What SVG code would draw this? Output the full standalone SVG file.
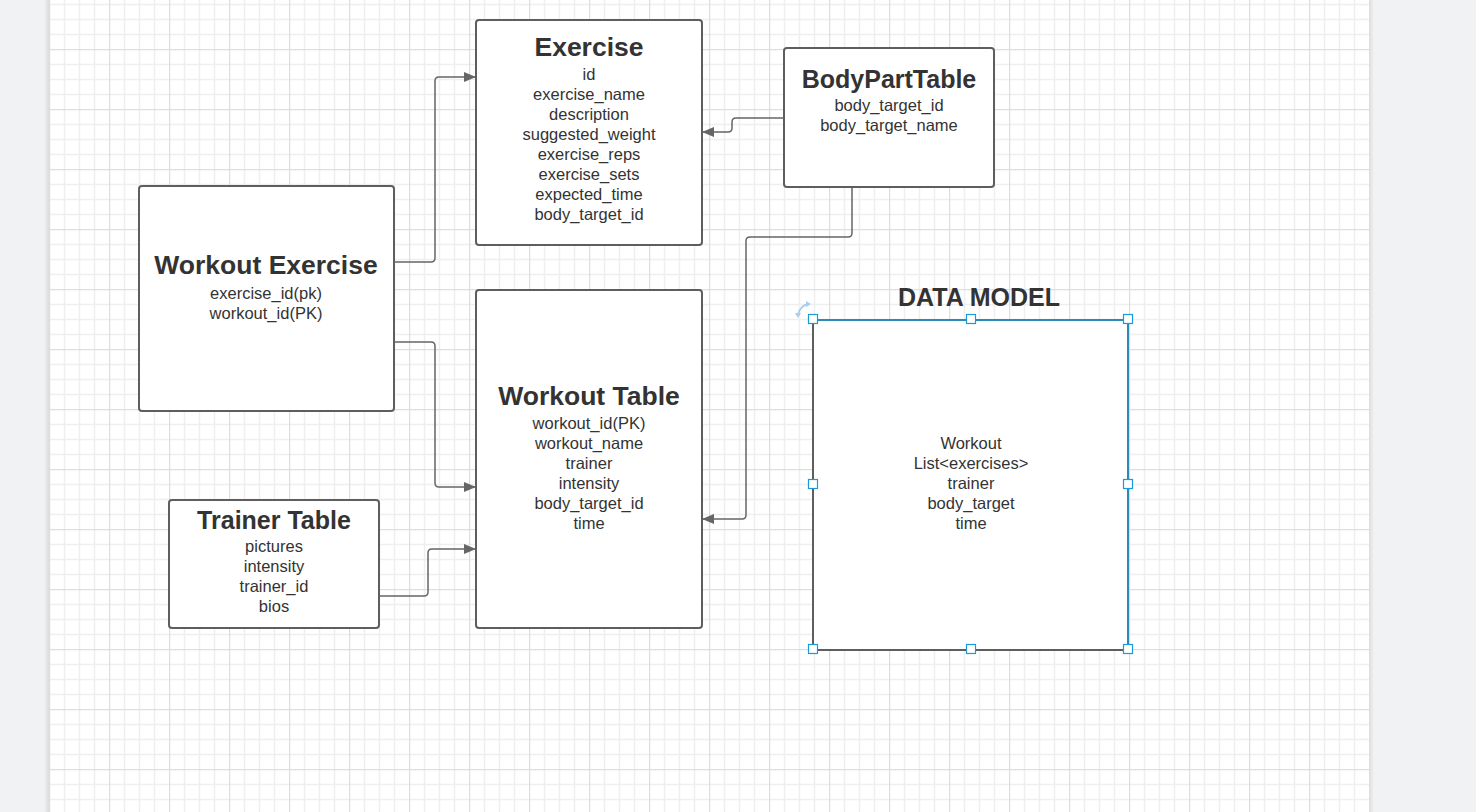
<svg xmlns="http://www.w3.org/2000/svg" width="1476" height="812" viewBox="0 0 1476 812">
<defs>
<pattern id="grid" patternUnits="userSpaceOnUse" x="49" y="49" width="60" height="60">
<path d="M15.5,0V60M30.5,0V60M45.5,0V60M0,15.5H60M0,30.5H60M0,45.5H60" stroke="#efefef" stroke-width="1.5" fill="none"/>
<path d="M0.5,0V60M0,0.5H60" stroke="#dedede" stroke-width="1.5" fill="none"/>
</pattern>
<linearGradient id="shadowL" x1="0" x2="1" y1="0" y2="0">
<stop offset="0" stop-color="#f1f2f4"/><stop offset="1" stop-color="#dcdcdf"/>
</linearGradient>
<linearGradient id="shadowR" x1="0" x2="1" y1="0" y2="0">
<stop offset="0" stop-color="#dcdcdf"/><stop offset="1" stop-color="#f1f2f4"/>
</linearGradient>
<marker id="arr" markerUnits="userSpaceOnUse" markerWidth="14" markerHeight="12" refX="11" refY="5" orient="auto">
<path d="M0,0 L12,5 L0,10 Z" fill="#666"/>
</marker>
</defs>
<style>
.box{fill:#fff;stroke:#5e5e5e;stroke-width:2}
.title{font-family:"Liberation Sans",Arial,sans-serif;font-weight:bold;font-size:26.5px;fill:#333;text-anchor:middle}
.t25{font-size:25px}
.f{font-family:"Liberation Sans",Arial,sans-serif;font-size:16.5px;fill:#333;text-anchor:middle}
.conn{fill:none;stroke:#666;stroke-width:1.5}
.h{fill:#fff;stroke:#1a9ad6;stroke-width:1.2}
</style>
<rect x="0" y="0" width="1476" height="812" fill="#f1f2f4"/>
<rect x="44" y="0" width="5" height="812" fill="url(#shadowL)"/>
<rect x="1369" y="0" width="5" height="812" fill="url(#shadowR)"/>
<rect x="49" y="0" width="1320" height="812" fill="#fff"/>
<rect x="49" y="0" width="1320" height="812" fill="url(#grid)"/>

<g id="connectors">
<path class="conn" marker-end="url(#arr)" d="M394,262 H431 Q435,262 435,258 V81 Q435,77 439,77 H475"/>
<path class="conn" marker-end="url(#arr)" d="M394,342 H431 Q435,342 435,346 V483 Q435,487 439,487 H475"/>
<path class="conn" marker-end="url(#arr)" d="M379,596 H424 Q428,596 428,592 V553 Q428,549 432,549 H475"/>
<path class="conn" marker-end="url(#arr)" d="M784,118 H736 Q732,118 732,122 V128 Q732,132 728,132 H703"/>
<path class="conn" marker-end="url(#arr)" d="M852,187 V233 Q852,237 848,237 H750 Q746,237 746,241 V515 Q746,519 742,519 H703"/>
</g>

<g id="exercise">
<rect class="box" x="476" y="20" width="226" height="225" rx="3"/>
<text class="title" x="589" y="55.5">Exercise</text>
<text class="f" x="589" y="80">id</text>
<text class="f" x="589" y="100">exercise_name</text>
<text class="f" x="589" y="120">description</text>
<text class="f" x="589" y="140">suggested_weight</text>
<text class="f" x="589" y="160">exercise_reps</text>
<text class="f" x="589" y="180">exercise_sets</text>
<text class="f" x="589" y="200">expected_time</text>
<text class="f" x="589" y="220">body_target_id</text>
</g>

<g id="bodypart">
<rect class="box" x="784" y="48" width="210" height="139" rx="3"/>
<text class="title t25" x="889" y="88">BodyPartTable</text>
<text class="f" x="889" y="111">body_target_id</text>
<text class="f" x="889" y="131">body_target_name</text>
</g>

<g id="workout-exercise">
<rect class="box" x="139" y="186" width="255" height="225" rx="3"/>
<text class="title" x="266" y="274">Workout Exercise</text>
<text class="f" x="266" y="299">exercise_id(pk)</text>
<text class="f" x="266" y="319">workout_id(PK)</text>
</g>

<g id="workout-table">
<rect class="box" x="476" y="290" width="226" height="338" rx="3"/>
<text class="title" x="589" y="405">Workout Table</text>
<text class="f" x="589" y="429">workout_id(PK)</text>
<text class="f" x="589" y="449">workout_name</text>
<text class="f" x="589" y="469">trainer</text>
<text class="f" x="589" y="489">intensity</text>
<text class="f" x="589" y="509">body_target_id</text>
<text class="f" x="589" y="529">time</text>
</g>

<g id="trainer-table">
<rect class="box" x="169" y="500" width="210" height="128" rx="3"/>
<text class="title t25" x="274" y="529">Trainer Table</text>
<text class="f" x="274" y="552">pictures</text>
<text class="f" x="274" y="572">intensity</text>
<text class="f" x="274" y="592">trainer_id</text>
<text class="f" x="274" y="612">bios</text>
</g>

<g id="data-model">
<text x="979" y="305.5" font-family="Liberation Sans,Arial,sans-serif" font-weight="bold" font-size="25" fill="#333" text-anchor="middle">DATA MODEL</text>
<rect x="813" y="320" width="315" height="330" fill="#fff" stroke="#5e5e5e" stroke-width="2"/>
<path d="M813,320 H1128 V650" fill="none" stroke="#1a9ad6" stroke-width="1.5"/>
<text class="f" x="971" y="449">Workout</text>
<text class="f" x="971" y="469">List&lt;exercises&gt;</text>
<text class="f" x="971" y="489">trainer</text>
<text class="f" x="971" y="509">body_target</text>
<text class="f" x="971" y="529">time</text>
<rect class="h" x="808.5" y="314.5" width="9" height="9"/>
<rect class="h" x="966.5" y="314.5" width="9" height="9"/>
<rect class="h" x="1123.5" y="314.5" width="9" height="9"/>
<rect class="h" x="808.5" y="479.5" width="9" height="9"/>
<rect class="h" x="1123.5" y="479.5" width="9" height="9"/>
<rect class="h" x="808.5" y="644.5" width="9" height="9"/>
<rect class="h" x="966.5" y="644.5" width="9" height="9"/>
<rect class="h" x="1123.5" y="644.5" width="9" height="9"/>
<path d="M798,315 Q800,305 809,304" fill="none" stroke="#a9cdec" stroke-width="1.8"/>
<path d="M806,301 L811,304 L806,307 Z M795,313 L798,318 L801,313 Z" fill="#a9cdec"/>
</g>
</svg>
